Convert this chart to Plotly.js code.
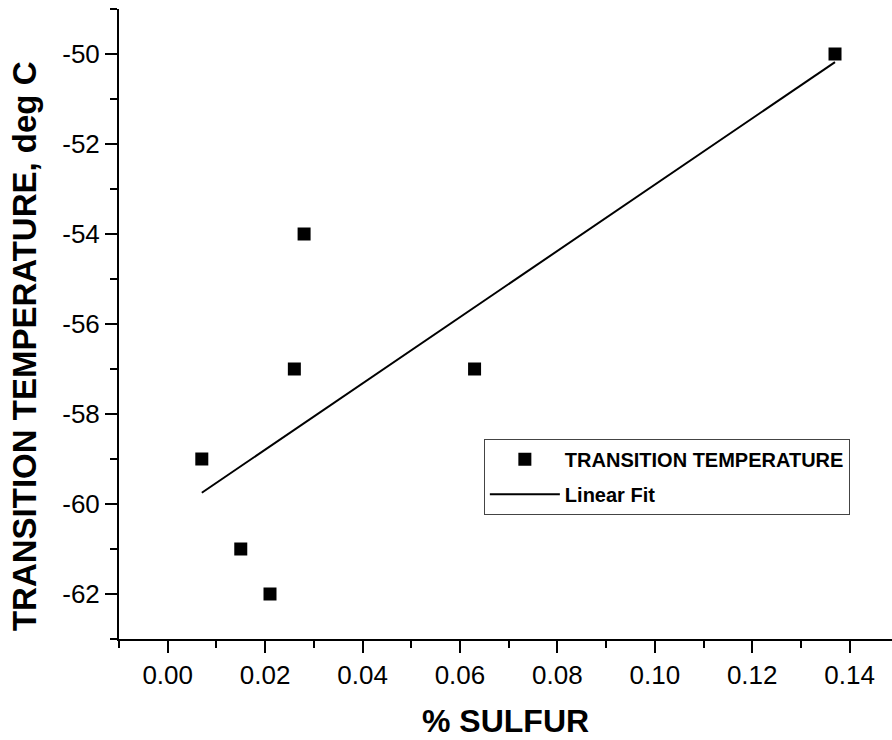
<!DOCTYPE html>
<html>
<head>
<meta charset="utf-8">
<script src="https://cdn.plot.ly/plotly-3.0.1.min.js"></script>
<style>
  html, body { margin: 0; padding: 0; background: #ffffff; }
  #chart { width: 892px; height: 740px; }
</style>
</head>
<body>
<div id="chart"></div>
<script>
// Transition temperature measured against sulfur content
const sulfurPct = [0.137, 0.028, 0.026, 0.063, 0.007, 0.015, 0.021];
const transitionTemp = [-50, -54, -57, -57, -59, -61, -62];

// Straight-line fit, end points
const fitX = [0.007, 0.137];
const fitY = [-59.75, -50.18];

// Axis tick labels
const xTickVals = [0.00, 0.02, 0.04, 0.06, 0.08, 0.10, 0.12, 0.14];
const xTickText = ["0.00", "0.02", "0.04", "0.06", "0.08", "0.10", "0.12", "0.14"];
const yTickVals = [-62, -60, -58, -56, -54, -52, -50];
const yTickText = ["-62", "-60", "-58", "-56", "-54", "-52", "-50"];

const xTitle = "% SULFUR";
const yTitle = "TRANSITION TEMPERATURE, deg C";

const FONT = "Liberation Sans, Arial, sans-serif";

const traces = [
  {
    x: sulfurPct,
    y: transitionTemp,
    type: "scatter",
    mode: "markers",
    name: "TRANSITION TEMPERATURE",
    legendgroup: "pts",
    marker: { symbol: "square", size: 13, color: "#000000", line: { width: 0 } },
    cliponaxis: false
  },
  {
    x: fitX,
    y: fitY,
    type: "scatter",
    mode: "lines",
    name: "Linear Fit",
    legendgroup: "fit",
    line: { color: "#000000", width: 2 }
  }
];

const axisCommon = {
  showgrid: false,
  zeroline: false,
  showline: true,
  linecolor: "#000000",
  linewidth: 2,
  ticks: "outside",
  ticklen: 12,
  tickwidth: 2,
  tickcolor: "#000000",
  tickfont: { family: FONT, size: 26, color: "#000000" },
  automargin: false
};

const layout = {
  width: 892,
  height: 740,
  margin: { l: 119, r: 0, t: 9, b: 101 },
  paper_bgcolor: "#ffffff",
  plot_bgcolor: "#ffffff",
  showlegend: true,
  legend: {
    x: 0.472,
    y: 0.318,
    xanchor: "left",
    yanchor: "top",
    bgcolor: "#ffffff",
    bordercolor: "#444444",
    borderwidth: 1,
    itemwidth: 70,
    traceorder: "grouped",
    tracegroupgap: 6,
    font: { family: FONT, size: 20, color: "#000000", weight: "bold" }
  },
  xaxis: Object.assign({}, axisCommon, {
    range: [-0.01, 0.1487],
    tickmode: "array",
    tickvals: xTickVals,
    ticktext: xTickText,
    minor: { dtick: 0.01, tick0: -0.01, ticks: "outside", ticklen: 7, tickwidth: 2, tickcolor: "#000000" }
  }),
  yaxis: Object.assign({}, axisCommon, {
    range: [-63, -49],
    tickmode: "array",
    tickvals: yTickVals,
    ticktext: yTickText,
    minor: { dtick: 1, tick0: -63, ticks: "outside", ticklen: 7, tickwidth: 2, tickcolor: "#000000" }
  }),
  annotations: [
    {
      text: xTitle,
      xref: "paper", yref: "paper",
      x: 0.5, y: -0.13,
      xanchor: "center", yanchor: "middle",
      showarrow: false,
      font: { family: FONT, size: 32, color: "#000000", weight: "bold" }
    },
    {
      text: yTitle,
      xref: "paper", yref: "paper",
      x: -0.1229, y: 0.465,
      xanchor: "center", yanchor: "middle",
      textangle: -90,
      showarrow: false,
      font: { family: FONT, size: 33, color: "#000000", weight: "bold" }
    }
  ]
};

Plotly.newPlot("chart", traces, layout, { displayModeBar: false, staticPlot: true });
</script>
</body>
</html>
